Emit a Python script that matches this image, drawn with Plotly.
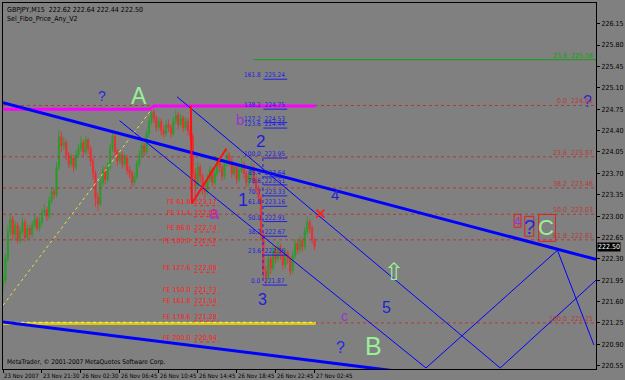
import plotly.graph_objects as go

# ---------------- data ----------------
# M15 candles (bar index 0..128), close / high / low; open = previous close
first_open = 221.85
close = [221.95, 222.30, 222.75, 222.95, 222.70, 222.85, 222.60, 222.75, 222.90, 222.65,
         222.80, 222.70, 222.85, 222.95, 222.80, 222.90, 223.05, 223.10, 223.00, 223.25,
         223.40, 223.35, 223.80, 224.30, 224.15, 224.20, 224.00, 223.85, 223.95, 223.80,
         224.00, 224.10, 224.20, 224.05, 224.25, 224.10, 223.90, 223.70, 223.30, 223.20,
         223.55, 223.75, 223.60, 223.80, 224.10, 224.30, 224.05, 223.90, 224.00, 223.85,
         223.95, 223.75, 223.70, 223.55, 223.65, 223.85, 224.00, 224.15, 224.05, 224.35,
         224.55, 224.70, 224.60, 224.45, 224.55, 224.40, 224.35, 224.50, 224.45, 224.35,
         224.55, 224.65, 224.50, 224.60, 224.45, 224.55, 224.40, 224.30, 223.70, 223.50,
         223.80, 223.65, 223.45, 223.40, 223.60, 223.75, 223.55, 223.70, 223.90, 223.80,
         223.65, 223.85, 224.00, 223.90, 223.70, 223.80, 223.60, 223.75, 223.85, 223.70,
         223.55, 223.65, 223.80, 223.60, 223.45, 223.30, 222.70, 222.10, 222.00, 222.30,
         222.15, 222.45, 222.30, 222.50, 222.35, 222.20, 222.40, 222.30, 222.10, 222.35,
         222.55, 222.45, 222.60, 222.50, 222.75, 222.90, 222.80, 222.62, 222.50]
high = [222.05, 222.38, 222.85, 223.02, 223.00, 222.92, 222.90, 222.82, 222.98, 222.95,
        222.88, 222.85, 222.92, 223.02, 223.00, 222.98, 223.12, 223.20, 223.15, 223.32,
        223.48, 223.45, 223.88, 224.40, 224.38, 224.30, 224.25, 224.05, 224.02, 224.00,
        224.08, 224.18, 224.30, 224.25, 224.32, 224.28, 224.15, 223.95, 223.75, 223.38,
        223.62, 223.82, 223.80, 223.88, 224.18, 224.38, 224.35, 224.10, 224.08, 224.05,
        224.02, 224.00, 223.82, 223.75, 223.72, 223.92, 224.08, 224.22, 224.20, 224.42,
        224.62, 224.78, 224.75, 224.65, 224.62, 224.60, 224.48, 224.58, 224.58, 224.50,
        224.62, 224.74, 224.70, 224.68, 224.65, 224.62, 224.60, 224.50, 224.35, 223.78,
        223.88, 223.85, 223.70, 223.55, 223.68, 223.82, 223.80, 223.78, 223.98, 223.95,
        223.85, 223.92, 224.08, 224.05, 223.95, 223.88, 223.85, 223.82, 223.95, 223.90,
        223.75, 223.72, 223.88, 223.85, 223.65, 223.50, 223.35, 222.75, 222.18, 222.38,
        222.35, 222.52, 222.50, 222.58, 222.55, 222.40, 222.48, 222.45, 222.35, 222.42,
        222.62, 222.60, 222.68, 222.65, 222.82, 223.00, 222.95, 222.85, 222.64]
low = [221.78, 221.90, 222.25, 222.68, 222.60, 222.62, 222.55, 222.55, 222.70, 222.58,
       222.60, 222.62, 222.65, 222.80, 222.75, 222.75, 222.85, 223.00, 222.92, 222.95,
       223.20, 223.28, 223.30, 223.75, 224.05, 224.08, 223.92, 223.78, 223.80, 223.72,
       223.75, 223.95, 224.05, 223.98, 224.00, 224.02, 223.82, 223.60, 223.15, 223.08,
       223.15, 223.48, 223.52, 223.55, 223.75, 224.05, 223.98, 223.82, 223.85, 223.78,
       223.80, 223.68, 223.62, 223.48, 223.50, 223.60, 223.80, 223.95, 223.98, 224.00,
       224.30, 224.50, 224.52, 224.38, 224.40, 224.32, 224.28, 224.30, 224.38, 224.28,
       224.30, 224.50, 224.42, 224.45, 224.38, 224.40, 224.32, 224.22, 223.60, 223.25,
       223.45, 223.55, 223.35, 223.30, 223.35, 223.55, 223.48, 223.50, 223.65, 223.72,
       223.58, 223.60, 223.80, 223.82, 223.62, 223.65, 223.52, 223.55, 223.70, 223.62,
       223.48, 223.50, 223.60, 223.52, 223.38, 223.22, 222.60, 221.98, 221.87, 221.95,
       222.05, 222.10, 222.22, 222.25, 222.28, 222.12, 222.15, 222.22, 222.02, 222.05,
       222.30, 222.38, 222.40, 222.42, 222.45, 222.70, 222.72, 222.55, 222.44]

time_tick_bars = [0, 16, 32, 48, 64, 80, 96, 112, 128]
time_tick_labels = ["23 Nov 2007", "23 Nov 21:30", "26 Nov 02:30", "26 Nov 06:45",
                    "26 Nov 10:45", "26 Nov 14:45", "26 Nov 18:45", "26 Nov 22:45",
                    "27 Nov 02:45"]
price_tick_labels = ["220.55", "220.90", "221.25", "221.60", "221.95", "222.30", "222.65",
                     "223.00", "223.35", "223.70", "224.05", "224.40", "224.75", "225.10",
                     "225.45", "225.80", "226.15"]
price_ticks = [float(t) for t in price_tick_labels]

# Fibo retracement (right)
retr_levels = ["0.0", "23.6", "38.2", "50.0", "61.8", "100.0"]
retr_prices = [224.81, 223.97, 223.46, 223.03, 222.61, 221.25]
green_level = "23.6"
green_price = 225.56

# Fibo expansion (left, red)
fe_levels = ["61.8", "71.4", "86.0", "100.0", "127.6", "150.0", "161.8", "178.6", "200.0"]
fe_prices = [223.17, 222.99, 222.74, 222.52, 222.08, 221.73, 221.54, 221.28, 220.94]

# Fibo (middle, blue)
mf_levels = ["161.8", "138.2", "127.2", "123.6", "100.0", "85.4", "78.6", "70.7", "61.8",
             "50.0", "38.2", "23.6", "0.0"]
mf_prices = [225.24, 224.75, 224.53, 224.44, 223.95, 223.64, 223.51, 223.33, 223.16,
             222.91, 222.67, 222.36, 221.87]

# drawn objects (bar index, price anchors)
trend_main_bar = [0, 243.65]
trend_main_price = [224.855, 222.29]
trend_low_bar = [0, 160]
trend_low_price = [221.265, 220.47]
chan_upper_bar = [71.5, 204.3, 243.65]
chan_upper_price = [224.953, 220.513, 221.95]
chan_lower_bar = [47.9, 173.8, 227.8, 242.8]
chan_lower_price = [224.561, 220.513, 222.44, 220.888]
zig_red_bar = [77.2, 77.6, 91.8]
zig_red_price = [224.807, 223.207, 224.105]
yel_dot_bar = [0, 61.3]
yel_dot_price = [221.54, 224.757]
magenta_bar = [0, 60.5, 62, 128.5]
magenta_price = [224.75, 224.75, 224.80, 224.80]
yellow_bar = [0, 128.5]
yellow_price = [221.24, 221.24]
green_bar = [103, 243.65]
mf_vert_bar = 106.8
x_mark_bar = 130.4
x_mark_price = 223.04

# wave labels
wave_text = ["?", "A", "b", "2", "1", "a", "3", "4", "5", "c", "?", "B", "⇧", "4", "?", "C", "?"]
wave_bar = [40.6, 55.8, 97.5, 105.6, 98.5, 86.9, 106.6, 136.4, 157.6, 140.5, 138.5, 152.3,
            160.8, 211.4, 216.4, 223.3, 240.2]
wave_price = [224.97, 224.97, 224.58, 224.22, 223.26, 223.05, 221.63, 223.35, 221.50, 221.37,
              220.84, 220.87, 222.09, 222.91, 222.82, 222.81, 224.88]
wave_kind = ["q", "g", "p", "n", "n", "p", "n", "n", "n", "p", "q", "g", "g", "p", "q", "g", "q"]
wave_size = [14, 23, 15, 17, 18, 18, 16, 15, 16, 14, 16, 25, 24, 12, 20, 22, 16]

# boxes around right labels: (bar0, bar1, price_top, price_bottom)
box_bar0 = [210.0, 214.4, 220.1]
box_bar1 = [212.8, 218.1, 227.0]
box_top = [223.027, 222.995, 223.027]
box_bot = [222.815, 222.668, 222.586]

# ---------------- styling ----------------
BG = "#808080"
GREEN_C = "#2f9a2f"
RED_C = "#e43434"
BLUE = "#0000ff"
FONT = "Liberation Sans, Arial, sans-serif"
SMALL = "Liberation Sans Narrow, Arial Narrow, DejaVu Sans Condensed, Liberation Sans, sans-serif"
kind_color = {"q": "#2828e0", "g": "#98f098", "p": "#9a32cd", "n": "#1f1fd8"}
XMAX = 243.65

fig = go.Figure()

opens = [first_open] + close[:-1]
bars = list(range(len(close)))
fig.add_trace(go.Candlestick(
    x=bars, open=opens, high=high, low=low, close=close,
    increasing=dict(line=dict(color=GREEN_C, width=1), fillcolor=GREEN_C),
    decreasing=dict(line=dict(color=RED_C, width=1), fillcolor=RED_C),
    whiskerwidth=0, showlegend=False, hoverinfo="skip"))


def add_line(xs, ys, color, width, dash="solid"):
    fig.add_trace(go.Scatter(x=xs, y=ys, mode="lines", line=dict(color=color, width=width, dash=dash),
                             showlegend=False, hoverinfo="skip"))


# retracement dotted levels (full width)
for p in retr_prices:
    add_line([0, XMAX], [p, p], "#b03a3a", 1, "dot")
add_line(green_bar, [green_price, green_price], "#10a010", 1)

# FE short underlines
fe_x, fe_y = [], []
for p in fe_prices:
    fe_x += [78.5, 88.6, None]
    fe_y += [p, p, None]
add_line(fe_x, fe_y, "#ff2020", 1, "dot")

# middle fib underlines
mf_x, mf_y = [], []
for p in mf_prices:
    mf_x += [107.0, 116.8, None]
    mf_y += [p, p, None]
add_line(mf_x, mf_y, "#2020e0", 1)
add_line([mf_vert_bar, mf_vert_bar], [mf_prices[4], mf_prices[-1]], "#2020e0", 1, "dot")

add_line(yellow_bar, yellow_price, "#d8c810", 3)
add_line(yellow_bar, [p + 0.02 for p in yellow_price], "#f4f0a0", 1, "dot")
add_line(magenta_bar, magenta_price, "#ff00ff", 3)
add_line(yel_dot_bar, yel_dot_price, "#e8e040", 1, "dot")
add_line(chan_upper_bar, chan_upper_price, BLUE, 1)
add_line(chan_lower_bar, chan_lower_price, BLUE, 1)
add_line(trend_main_bar, trend_main_price, BLUE, 3)
add_line(trend_low_bar, trend_low_price, BLUE, 3)
add_line(zig_red_bar, zig_red_price, "#ff1010", 2)

fig.add_trace(go.Scatter(x=[x_mark_bar], y=[x_mark_price], mode="markers",
                         marker=dict(symbol="x-thin", size=8, line=dict(color="#ff2020", width=2)),
                         showlegend=False, hoverinfo="skip"))

annotations = []
# wave labels
for t, b, p, k, s in zip(wave_text, wave_bar, wave_price, wave_kind, wave_size):
    annotations.append(dict(x=b, y=p, xref="x", yref="y", text=t, showarrow=False,
                            xanchor="center", yanchor="middle",
                            font=dict(family=FONT if t != "⇧" else "DejaVu Sans", size=s,
                                      color=kind_color[k])))
# FE labels
for lv, p in zip(fe_levels, fe_prices):
    annotations.append(dict(x=88.6, y=p, xref="x", yref="y", text=f"FE {lv}  {p:.2f}",
                            showarrow=False, xanchor="right", yanchor="bottom", yshift=-2,
                            font=dict(family=SMALL, size=7, color="#ff2020")))
# middle fib labels
for lv, p in zip(mf_levels, mf_prices):
    annotations.append(dict(x=116.8, y=p, xref="x", yref="y", text=f"{lv}  {p:.2f}",
                            showarrow=False, xanchor="right", yanchor="bottom", yshift=-2,
                            font=dict(family=SMALL, size=6.5, color="#2020e0")))
# right retracement labels
for lv, p in zip(retr_levels, retr_prices):
    annotations.append(dict(x=XMAX - 0.6, y=p, xref="x", yref="y", text=f"{lv}  {p:.2f}",
                            showarrow=False, xanchor="right", yanchor="bottom", yshift=-2,
                            font=dict(family=SMALL, size=7, color="#b83a3a")))
annotations.append(dict(x=XMAX - 0.6, y=green_price, xref="x", yref="y",
                        text=f"{green_level}  {green_price:.2f}", showarrow=False,
                        xanchor="right", yanchor="bottom", yshift=-2,
                        font=dict(family=SMALL, size=7, color="#10a010")))
# time labels
for b, t in zip(time_tick_bars, time_tick_labels):
    annotations.append(dict(x=b, y=0, xref="x", yref="paper", text=t, showarrow=False,
                            xanchor="left", yanchor="top", yshift=-1, xshift=-1,
                            font=dict(family=SMALL, size=6, color="black")))
# header / footer
annotations.append(dict(x=0, y=1, xref="paper", yref="paper", xanchor="left", yanchor="top",
                        text="GBPJPY,M15  222.62 222.64 222.44 222.50", showarrow=False,
                        xshift=2, yshift=-1, font=dict(family=SMALL, size=7, color="black")))
annotations.append(dict(x=0, y=1, xref="paper", yref="paper", xanchor="left", yanchor="top",
                        text="Sel_Fibo_Price_Any_V2", showarrow=False,
                        xshift=2, yshift=-10, font=dict(family=SMALL, size=7, color="black")))
annotations.append(dict(x=0, y=0, xref="paper", yref="paper", xanchor="left", yanchor="bottom",
                        text="MetaTrader, © 2001-2007 MetaQuotes Software Corp.", showarrow=False,
                        xshift=2, yshift=1, font=dict(family=SMALL, size=6.5, color="black")))
# current price box
annotations.append(dict(x=1, y=close[-1], xref="paper", yref="y", xanchor="left", yanchor="middle",
                        text=f"{close[-1]:.2f}", showarrow=False, bgcolor="black", xshift=1,
                        borderpad=0, font=dict(family=SMALL, size=7, color="white")))

shapes = []
for b0, b1, pt, pb in zip(box_bar0, box_bar1, box_top, box_bot):
    shapes.append(dict(type="rect", xref="x", yref="y", x0=b0, x1=b1, y0=pb, y1=pt,
                       line=dict(color="#e02020", width=1)))

fig.update_layout(
    width=625, height=380, margin=dict(l=2, r=23, t=2, b=11),
    paper_bgcolor=BG, plot_bgcolor=BG, showlegend=False,
    annotations=annotations, shapes=shapes,
    xaxis=dict(range=[0, XMAX], showgrid=False, zeroline=False, showline=True,
               linecolor="black", linewidth=1, mirror=True, ticks="outside", ticklen=3,
               tickcolor="black", tickvals=time_tick_bars, showticklabels=False,
               rangeslider=dict(visible=False)),
    yaxis=dict(range=[220.496, 226.488], side="right", showgrid=False, zeroline=False,
               showline=True, linecolor="black", linewidth=1, mirror=True, ticks="outside",
               ticklen=3, tickcolor="black", tickvals=price_ticks, ticktext=price_tick_labels,
               tickfont=dict(family=SMALL, size=7, color="black")),
)

fig.write_html("out.html")
